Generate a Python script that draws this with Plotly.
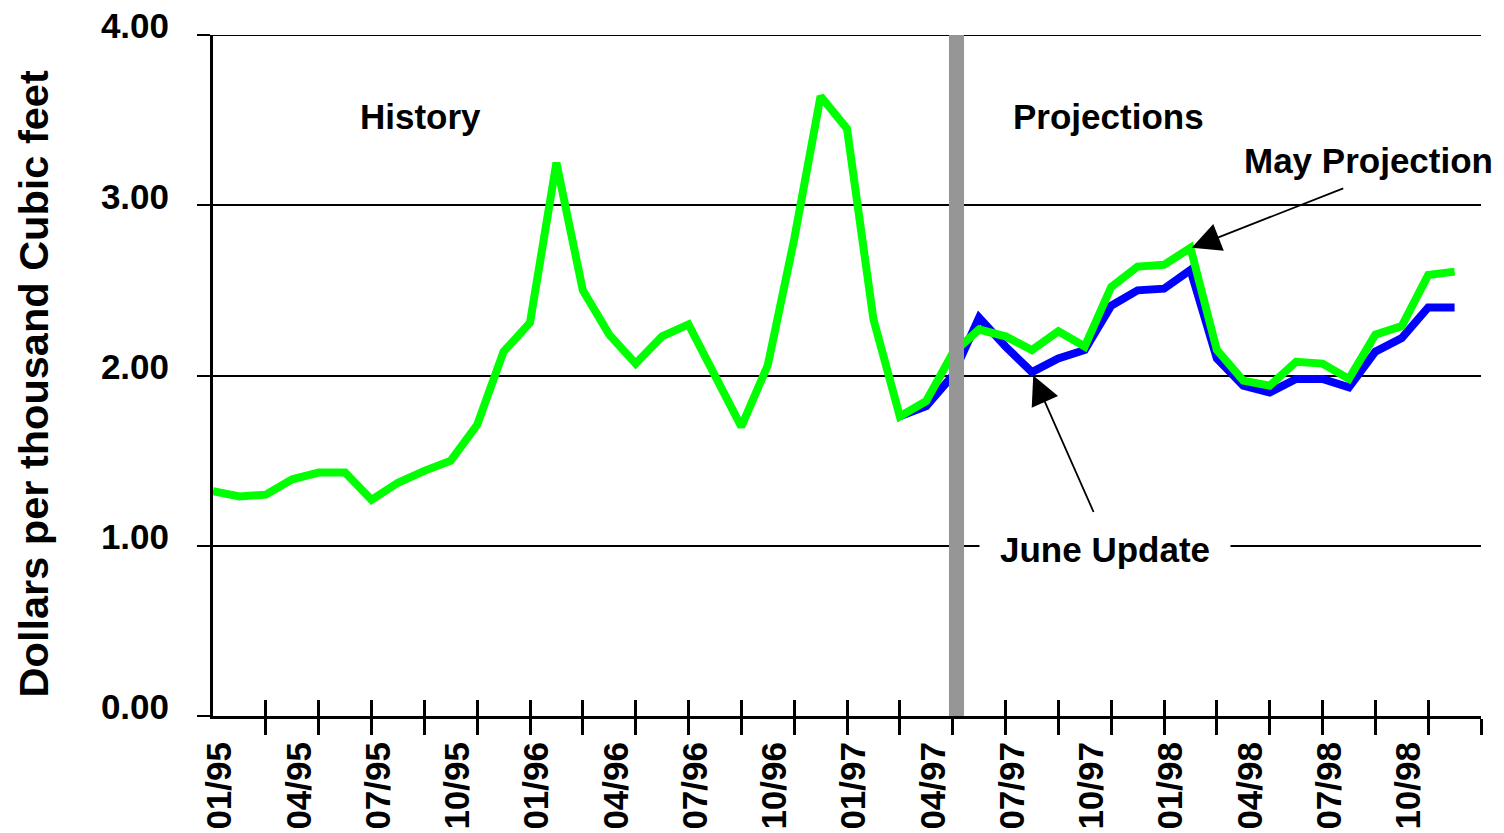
import plotly.graph_objects as go

# Monthly Henry Hub-style price series, Jan 1995 .. Dec 1998 (month index 0..47)
month_index = list(range(48))

# History plus the May projection (green)
may_projection = [
    1.32, 1.29, 1.30, 1.39, 1.43, 1.43, 1.27, 1.37, 1.44, 1.50, 1.71, 2.14,
    2.31, 3.25, 2.50, 2.24, 2.07, 2.23, 2.30, 1.99, 1.70, 2.06, 2.80, 3.64,
    3.45, 2.33, 1.76, 1.85, 2.13, 2.27, 2.23, 2.15, 2.26, 2.17, 2.52, 2.64,
    2.65, 2.75, 2.15, 1.97, 1.94, 2.08, 2.07, 1.98, 2.24, 2.29, 2.59, 2.61,
]

# June update (blue), from March 1997 onward
june_index = list(range(26, 48))
june_update = [
    1.76, 1.82, 2.00, 2.34, 2.17, 2.02, 2.10, 2.15, 2.41, 2.50, 2.51, 2.62,
    2.10, 1.94, 1.90, 1.98, 1.98, 1.93, 2.14, 2.22, 2.40, 2.40,
]

# Axis labelling
tick_label_pos = [0, 3, 6, 9, 12, 15, 18, 21, 24, 27, 30, 33, 36, 39, 42, 45]
tick_labels = ["01/95", "04/95", "07/95", "10/95", "01/96", "04/96", "07/96", "10/96",
               "01/97", "04/97", "07/97", "10/97", "01/98", "04/98", "07/98", "10/98"]
tick_mark_pos = list(range(2, 49, 2))
y_ticks = [0, 1, 2, 3, 4]
y_tick_labels = ["0.00", "1.00", "2.00", "3.00", "4.00"]

# History / projection divider (around May 1997)
divider_x0, divider_x1 = 27.86, 28.43

FONT = "Liberation Sans"
BLACK = "#000000"

fig = go.Figure()
fig.add_trace(go.Scatter(
    x=june_index, y=june_update, mode="lines",
    line=dict(color="#0000FF", width=8), hoverinfo="skip", name="June Update",
))
fig.add_trace(go.Scatter(
    x=month_index, y=may_projection, mode="lines",
    line=dict(color="#00FF00", width=8), hoverinfo="skip", name="May Projection",
))
# carrier traces so the label axis and the inner-tick axis are drawn
fig.add_trace(go.Scatter(x=[0], y=[None], xaxis="x2", showlegend=False, hoverinfo="skip"))
fig.add_trace(go.Scatter(x=[0], y=[None], xaxis="x3", showlegend=False, hoverinfo="skip"))

fig.update_layout(
    width=1504, height=833,
    margin=dict(l=213, r=23, t=35, b=117),
    paper_bgcolor="white", plot_bgcolor="white",
    showlegend=False,
    font=dict(family=FONT, size=35, color=BLACK, weight="bold"),
    xaxis=dict(
        range=[0, 48], tickvals=tick_mark_pos, ticks="outside", ticklen=16,
        tickwidth=3, tickcolor=BLACK, showticklabels=False, showgrid=False,
        showline=True, linecolor=BLACK, linewidth=3, zeroline=False,
        automargin=False,
    ),
    xaxis2=dict(
        overlaying="x", anchor="y", side="bottom", range=[0, 48],
        tickvals=tick_label_pos, ticktext=tick_labels, tickangle=-90,
        ticks="", showgrid=False, showline=False, zeroline=False,
        ticklabelstandoff=18, ticklabelshift=7, automargin=False,
        tickfont=dict(family=FONT, size=35, color=BLACK, weight="bold"),
    ),
    xaxis3=dict(
        overlaying="x", anchor="y", side="bottom", range=[0, 48],
        tickvals=tick_mark_pos, ticks="inside", ticklen=16, tickwidth=3,
        tickcolor=BLACK, showticklabels=False, showgrid=False,
        showline=False, zeroline=False, automargin=False,
    ),
    yaxis=dict(
        range=[0, 4], tickvals=y_ticks, ticktext=y_tick_labels,
        ticks="outside", ticklen=13, tickwidth=2, tickcolor=BLACK,
        showgrid=True, gridcolor=BLACK, gridwidth=2,
        showline=True, linecolor=BLACK, linewidth=3, zeroline=False,
        ticklabelstandoff=21, ticklabelshift=-9, automargin=False,
        tickfont=dict(family=FONT, size=35, color=BLACK, weight="bold"),
    ),
)

# top border of the plot area
fig.add_shape(type="line", xref="paper", yref="y", x0=0, x1=1, y0=4, y1=4,
              line=dict(color=BLACK, width=2), layer="below")

# gray history/projection divider
fig.add_shape(type="rect", xref="x", yref="y", x0=divider_x0, x1=divider_x1,
              y0=0, y1=4.025, fillcolor="#969696", line=dict(width=0), layer="above")

label_font = dict(family=FONT, size=35, color=BLACK, weight="bold")

fig.add_annotation(x=7.87, y=3.52, xref="x", yref="y", text="History",
                   showarrow=False, font=label_font)
fig.add_annotation(x=33.9, y=3.52, xref="x", yref="y", text="Projections",
                   showarrow=False, font=label_font)
fig.add_annotation(x=43.75, y=3.26, xref="x", yref="y", text="May Projection",
                   showarrow=False, font=label_font)
fig.add_annotation(x=33.75, y=0.98, xref="x", yref="y", text="June Update",
                   showarrow=False, font=label_font, bgcolor="white", borderpad=20)

# arrows
fig.add_annotation(x=37.05, y=2.75, xref="x", yref="y", text="",
                   showarrow=True, arrowhead=2, arrowsize=3.2, arrowwidth=1.8,
                   arrowcolor=BLACK, ax=153, ay=-60, standoff=0)
fig.add_annotation(x=31.05, y=2.00, xref="x", yref="y", text="",
                   showarrow=True, arrowhead=2, arrowsize=3.2, arrowwidth=1.8,
                   arrowcolor=BLACK, ax=61, ay=138, standoff=0)

# y-axis title
fig.add_annotation(x=-0.162, y=0.487, xref="paper", yref="paper",
                   text="Dollars per thousand Cubic feet", textangle=-90,
                   showarrow=False, font=dict(family=FONT, size=41.5, color=BLACK, weight="bold"))

fig.write_html("out.html")
